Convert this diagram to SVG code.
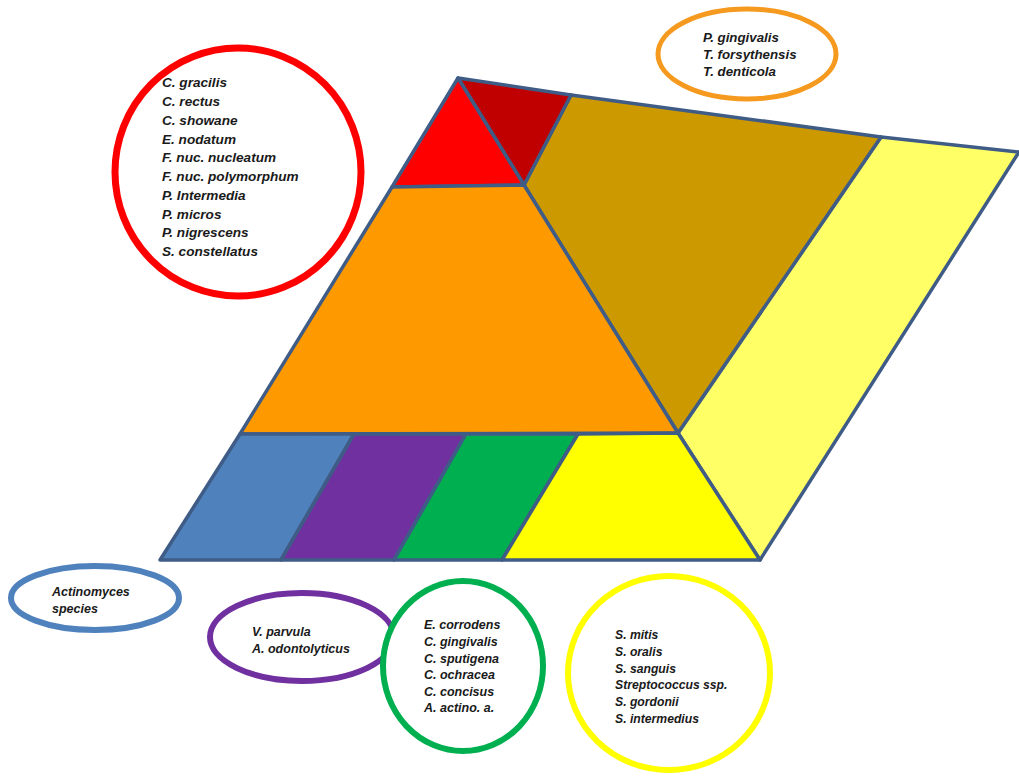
<svg xmlns="http://www.w3.org/2000/svg" width="1019" height="777" viewBox="0 0 1019 777">
<style>
.shape{stroke:#3F5C86;stroke-width:3.5;stroke-linejoin:round}
.lbl{font-family:"Liberation Sans",Arial,sans-serif;font-size:12.5px;font-weight:bold;font-style:italic;fill:#1a1a1a}
.ring{fill:#fff}
</style>
<rect width="1019" height="777" fill="#fff"/>
<g id="pyramid">
<polygon id="yellow-strip" class="shape" fill="#FFFF66" points="881,137 1019,152 760,560 678,433"/>
<polygon id="brown" class="shape" fill="#CC9900" points="571,95 881,137 678,433 524,185"/>
<polygon id="darkred" class="shape" fill="#C00000" points="458,78 571,95 524,185"/>
<polygon id="red" class="shape" fill="#FF0000" points="458,78 524,185 392,187"/>
<polygon id="orange" class="shape" fill="#FF9900" points="392,187 524,185 678,433 240,434"/>
<polygon id="blue" class="shape" fill="#4F81BD" points="240,434 354,434 281,560 160,560"/>
<polygon id="purple" class="shape" fill="#7030A0" points="354,434 466,434 394,560 281,560"/>
<polygon id="green" class="shape" fill="#00B050" points="466,434 578,434 502,560 394,560"/>
<polygon id="yellow" class="shape" fill="#FFFF00" points="578,434 678,433 760,560 502,560"/>
</g>
<g id="connectors"></g>
<g id="red-circle">
<ellipse class="ring" cx="238" cy="172" rx="123" ry="124" stroke="#FF0000" stroke-width="7"/>
<text class="lbl" style="font-size:13.6px"><tspan x="162" y="87">C. gracilis</tspan><tspan x="162" y="106">C. rectus</tspan><tspan x="162" y="124.5">C. showane</tspan><tspan x="162" y="143.5">E. nodatum</tspan><tspan x="162" y="162">F. nuc. nucleatum</tspan><tspan x="162" y="181">F. nuc. polymorphum</tspan><tspan x="162" y="199.5">P. Intermedia</tspan><tspan x="162" y="218.5">P. micros</tspan><tspan x="162" y="237">P. nigrescens</tspan><tspan x="162" y="256">S. constellatus</tspan></text>
</g>
<g id="orange-circle">
<ellipse class="ring" cx="747" cy="54" rx="89" ry="45" stroke="#F59A1F" stroke-width="5"/>
<text class="lbl" style="font-size:13.3px"><tspan x="703" y="42">P. gingivalis</tspan><tspan x="703" y="59">T. forsythensis</tspan><tspan x="703" y="76">T. denticola</tspan></text>
</g>
<g id="blue-circle">
<ellipse class="ring" cx="95" cy="598" rx="84" ry="32" stroke="#4F81BD" stroke-width="6"/>
<text class="lbl"><tspan x="52" y="596">Actinomyces</tspan><tspan x="52" y="613">species</tspan></text>
</g>
<g id="purple-circle">
<ellipse class="ring" cx="302" cy="637" rx="92" ry="44" stroke="#7030A0" stroke-width="6"/>
<text class="lbl"><tspan x="252" y="636">V. parvula</tspan><tspan x="252" y="653">A. odontolyticus</tspan></text>
</g>
<g id="green-circle">
<ellipse class="ring" cx="463" cy="666" rx="80" ry="85" stroke="#00B050" stroke-width="6"/>
<text class="lbl"><tspan x="424" y="629">E. corrodens</tspan><tspan x="424" y="645.5">C. gingivalis</tspan><tspan x="424" y="662.5">C. sputigena</tspan><tspan x="424" y="679">C. ochracea</tspan><tspan x="424" y="695.5">C. concisus</tspan><tspan x="424" y="712">A. actino. a.</tspan></text>
</g>
<g id="yellow-circle">
<ellipse class="ring" cx="669" cy="673" rx="101" ry="97" stroke="#FFFF00" stroke-width="6"/>
<text class="lbl" style="font-size:12.2px"><tspan x="615" y="639">S. mitis</tspan><tspan x="615" y="656">S. oralis</tspan><tspan x="615" y="672.5">S. sanguis</tspan><tspan x="615" y="689">Streptococcus ssp.</tspan><tspan x="615" y="706">S. gordonii</tspan><tspan x="615" y="723">S. intermedius</tspan></text>
</g>
</svg>
